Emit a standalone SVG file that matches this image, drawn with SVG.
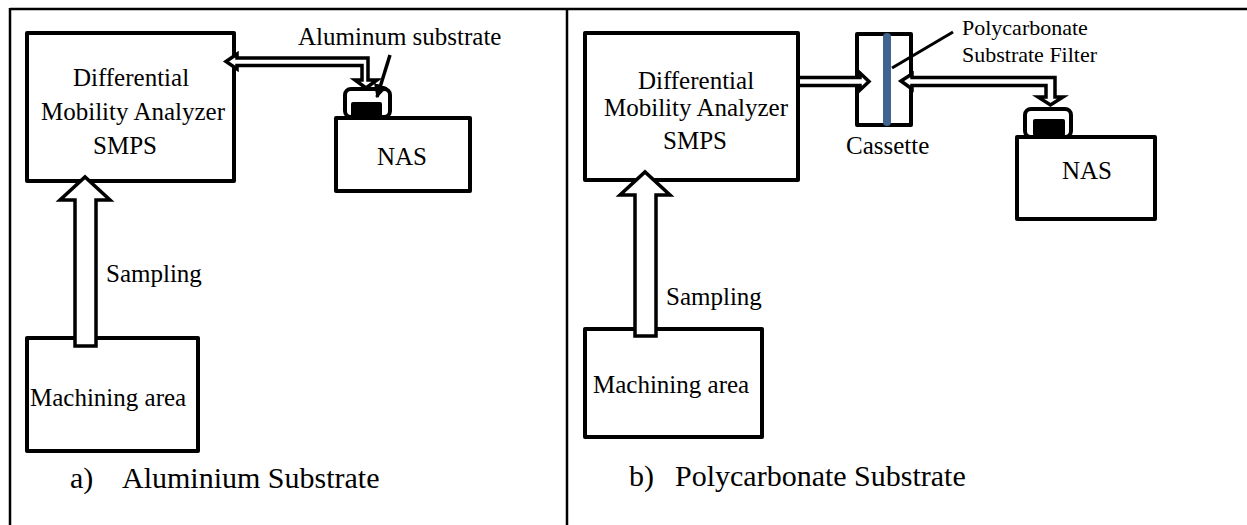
<svg xmlns="http://www.w3.org/2000/svg" width="1247" height="525" viewBox="0 0 1247 525">
<defs>
<style>
.box{fill:#fff;stroke:#000;stroke-width:4;stroke-linejoin:round}
.arr{fill:#fff;stroke:#000;stroke-width:3.5;stroke-linejoin:miter}
.t{font-family:"Liberation Serif","Times New Roman",serif;font-size:25px;fill:#000}
.s{font-family:"Liberation Serif","Times New Roman",serif;font-size:22px;fill:#000}
.c{font-family:"Liberation Serif","Times New Roman",serif;font-size:30px;fill:#000}
.grid{stroke:#000;stroke-width:2.5;fill:none}
</style>
<marker id="ah" viewBox="0 0 10 10" refX="9" refY="5" markerWidth="4" markerHeight="4" orient="auto" markerUnits="strokeWidth">
<path d="M0,0 L10,5 L0,10 Z" fill="#000"/>
</marker>
</defs>
<rect width="1247" height="525" fill="#fff"/>
<g id="frame">
<line class="grid" x1="10" y1="9" x2="1247" y2="9"/>
<line class="grid" x1="10" y1="8" x2="10" y2="525"/>
<line class="grid" x1="567" y1="8" x2="567" y2="525"/>
</g>
<!-- Panel a -->
<g id="dma-a"><rect class="box" x="27" y="33" width="207" height="148"/>
<text class="t" x="131" y="86" text-anchor="middle">Differential</text>
<text class="t" x="133" y="120" text-anchor="middle">Mobility Analyzer</text>
<text class="t" x="125" y="154" text-anchor="middle">SMPS</text></g>
<g id="nas-a"><rect class="box" x="336" y="118" width="134" height="73"/>
<rect class="box" x="345" y="89" width="45" height="28" rx="6"/>
<rect x="351" y="102" width="31" height="15" rx="2" fill="#000"/>
<text class="t" x="377" y="165">NAS</text></g>
<g id="mach-a"><rect class="box" x="27" y="338" width="171" height="113"/>
<text class="t" x="30" y="406">Machining area</text></g>
<g id="label-al"><text class="t" x="298" y="45">Aluminum substrate</text></g>
<g id="caption-a"><text class="c" x="70" y="488">a)</text><text class="c" x="122" y="488">Aluminium Substrate</text></g>
<!-- Panel b -->
<g id="dma-b"><rect class="box" x="585" y="33" width="213" height="147"/>
<text class="t" x="696" y="89" text-anchor="middle">Differential</text>
<text class="t" x="696" y="116" text-anchor="middle">Mobility Analyzer</text>
<text class="t" x="695" y="149" text-anchor="middle">SMPS</text></g>
<g id="cassette"><rect class="box" x="857" y="34" width="54" height="91"/>
<text class="t" x="846" y="154">Cassette</text></g>
<g id="nas-b"><rect class="box" x="1017" y="137" width="138" height="82"/>
<rect class="box" x="1025" y="109" width="46" height="28" rx="6"/>
<rect x="1033" y="119" width="32" height="17" rx="2" fill="#000"/>
<text class="t" x="1062" y="179">NAS</text></g>
<g id="mach-b"><rect class="box" x="585" y="329" width="177" height="108"/>
<text class="t" x="593" y="393">Machining area</text></g>
<g id="label-pc"><text class="s" x="962" y="35">Polycarbonate</text><text class="s" x="962" y="62">Substrate Filter</text></g>
<g id="caption-b"><text class="c" x="629" y="486">b)</text><text class="c" x="675" y="486">Polycarbonate Substrate</text></g>
<g id="connectors">
<path class="arr" d="M226,61.5 L237,54 L237,58 L368,58 L368,80 L377,80 L366,88 L355,80 L362,80 L362,65.5 L237,65.5 L237,69 Z"/>
<path class="arr" d="M75,346 L75,200 L60,200 L85,177 L110,200 L96,200 L96,346 Z"/>
<text class="t" x="106" y="282">Sampling</text>
<line x1="390" y1="55" x2="377" y2="97" stroke="#000" stroke-width="3.5" marker-end="url(#ah)"/>
<path class="arr" d="M800,77.5 L860,77.5 L860,73 L869,81.5 L860,90 L860,85.5 L800,85.5"/>
<rect x="883" y="33" width="8" height="93" rx="4" fill="#41648f"/>
<path class="arr" d="M901,81 L912,74 L912,77.5 L1055,77.5 L1055,97 L1063,97 L1050.5,105 L1038,97 L1046,97 L1046,85.5 L912,85.5 L912,89 Z"/>
<line x1="953" y1="32" x2="892" y2="68" stroke="#000" stroke-width="3"/>
<path class="arr" d="M635,336 L635,195 L620,195 L645,172 L670,195 L656,195 L656,336 Z"/>
<text class="t" x="666" y="305">Sampling</text>
</g>
</svg>
